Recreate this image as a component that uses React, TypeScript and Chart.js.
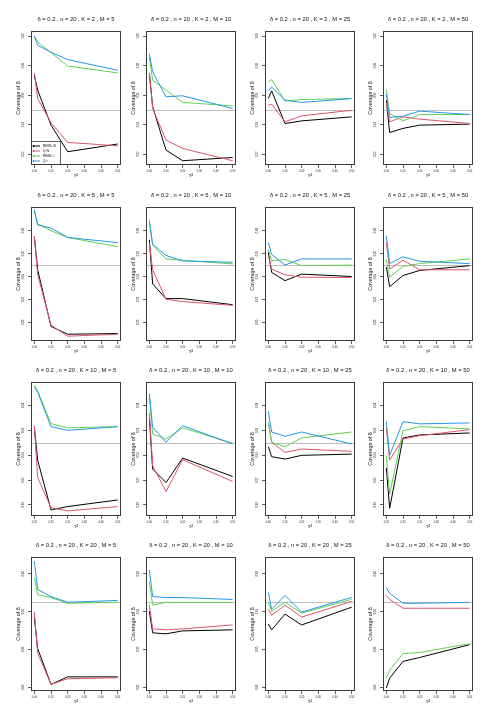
import React, { useEffect, useRef } from "react";
import { Chart, registerables } from "chart.js";

Chart.register(...registerables);

// ---------------- data ----------------
const delta = 0.2;
const nSize = 20;
const tau2 = [0, 0.02, 0.1, 0.2, 0.5];
const xTicks = [0, 0.1, 0.2, 0.3, 0.4, 0.5];
const Kvals = [2, 5, 10, 20];
const Mvals = [5, 10, 25, 50];
const seriesNames = ["REML.N", "Q.N", "REML.t", "Q.t"];
const seriesColors = ["#000000", "#DF536B", "#61D04F", "#2297E6"];
const nominal = 0.95;

// each array: rows for M = 5, 10, 25, 50; columns follow tau2
const K2_REML_N = [
  [0.9734, 0.9633, 0.9396, 0.9216, 0.9268],
  [0.975, 0.952, 0.9227, 0.9155, 0.9177],
  [0.9576, 0.9628, 0.9407, 0.9425, 0.9452],
  [0.9565, 0.9346, 0.9374, 0.9396, 0.9403],
];
const K2_Q_N = [
  [0.975, 0.9576, 0.9412, 0.9279, 0.9256],
  [0.975, 0.9509, 0.9295, 0.9238, 0.9155],
  [0.9531, 0.9538, 0.9419, 0.9459, 0.9497],
  [0.9547, 0.9419, 0.9452, 0.9437, 0.9407],
];
const K2_REML_t = [
  [1.0, 0.996, 0.9887, 0.9797, 0.975],
  [0.9858, 0.97, 0.9633, 0.955, 0.9527],
  [0.9689, 0.9705, 0.956, 0.957, 0.9576],
  [0.9637, 0.9475, 0.9425, 0.9468, 0.9468],
];
const K2_Q_t = [
  [1.0, 0.9937, 0.989, 0.984, 0.9768],
  [0.988, 0.9757, 0.9588, 0.9595, 0.9509],
  [0.9628, 0.9655, 0.9565, 0.955, 0.9576],
  [0.9606, 0.9448, 0.9457, 0.9491, 0.9468],
];

const K5_REML_N = [
  [0.975, 0.9459, 0.8964, 0.8896, 0.8902],
  [0.972, 0.9335, 0.9207, 0.9207, 0.9154],
  [0.9613, 0.9436, 0.9364, 0.9421, 0.94],
  [0.9483, 0.9311, 0.9409, 0.9453, 0.9495],
];
const K5_Q_N = [
  [0.975, 0.9415, 0.8976, 0.8879, 0.8896],
  [0.9696, 0.9459, 0.9201, 0.9181, 0.9148],
  [0.9584, 0.9465, 0.9415, 0.9394, 0.9391],
  [0.9696, 0.9465, 0.9542, 0.9459, 0.9459],
];
const K5_REML_t = [
  [0.997, 0.9859, 0.98, 0.9741, 0.9661],
  [0.9898, 0.9673, 0.9554, 0.9542, 0.951],
  [0.9637, 0.9539, 0.9548, 0.9495, 0.95],
  [0.9548, 0.9394, 0.9489, 0.9513, 0.9554],
];
const K5_Q_t = [
  [0.9987, 0.985, 0.9824, 0.9741, 0.9696],
  [0.9874, 0.9681, 0.9584, 0.9536, 0.9524],
  [0.9696, 0.9593, 0.95, 0.9554, 0.9554],
  [0.9756, 0.9513, 0.9572, 0.9533, 0.9513],
];

const K10_REML_N = [
  [0.9625, 0.936, 0.896, 0.8987, 0.904],
  [0.97, 0.9288, 0.918, 0.9377, 0.9229],
  [0.9469, 0.9388, 0.9369, 0.9399, 0.9409],
  [0.9297, 0.8973, 0.9539, 0.9563, 0.9579],
];
const K10_Q_N = [
  [0.9638, 0.922, 0.8978, 0.8952, 0.8987],
  [0.974, 0.9315, 0.9108, 0.9364, 0.9189],
  [0.9665, 0.9504, 0.9423, 0.945, 0.9431],
  [0.962, 0.9362, 0.953, 0.9557, 0.9606],
];
const K10_REML_t = [
  [0.9962, 0.9916, 0.9654, 0.962, 0.963],
  [0.989, 0.957, 0.953, 0.962, 0.9496],
  [0.9665, 0.9504, 0.9469, 0.9539, 0.9587],
  [0.9393, 0.9084, 0.9598, 0.963, 0.9612],
];
const K10_Q_t = [
  [0.9948, 0.9908, 0.963, 0.96, 0.963],
  [0.9894, 0.9625, 0.9504, 0.9638, 0.949],
  [0.9754, 0.9587, 0.9552, 0.9587, 0.949],
  [0.967, 0.94, 0.967, 0.9652, 0.966],
];

const K20_REML_N = [
  [0.934, 0.901, 0.863, 0.871, 0.871],
  [0.9406, 0.9176, 0.9166, 0.9197, 0.9208],
  [0.927, 0.9208, 0.9375, 0.926, 0.9448],
  [0.8592, 0.8696, 0.8874, 0.8915, 0.9051],
];
const K20_Q_N = [
  [0.94, 0.896, 0.863, 0.869, 0.87],
  [0.947, 0.9218, 0.9208, 0.9218, 0.926],
  [0.9427, 0.9364, 0.9469, 0.9343, 0.951],
  [0.9573, 0.9531, 0.9437, 0.9437, 0.9437],
];
const K20_REML_t = [
  [0.976, 0.958, 0.955, 0.949, 0.95],
  [0.972, 0.947, 0.95, 0.95, 0.95],
  [0.95, 0.9406, 0.95, 0.9385, 0.9531],
  [0.8696, 0.878, 0.8957, 0.8968, 0.9062],
];
const K20_Q_t = [
  [0.9938, 0.9636, 0.956, 0.95, 0.952],
  [0.9844, 0.956, 0.955, 0.955, 0.953],
  [0.9604, 0.9427, 0.9573, 0.9396, 0.9552],
  [0.9657, 0.9594, 0.949, 0.949, 0.95],
];

const seriesByK = [
  [K2_REML_N, K2_Q_N, K2_REML_t, K2_Q_t],
  [K5_REML_N, K5_Q_N, K5_REML_t, K5_Q_t],
  [K10_REML_N, K10_Q_N, K10_REML_t, K10_Q_t],
  [K20_REML_N, K20_Q_N, K20_REML_t, K20_Q_t],
];

const yTicksRow1 = [0.92, 0.94, 0.96, 0.98, 1.0];
const yTicksRow2 = [0.9, 0.92, 0.94, 0.96, 0.98];
const yTicksRow3 = [0.9, 0.92, 0.94, 0.96, 0.98];
const yTicksRow4 = [0.86, 0.9, 0.94, 0.98];
const yTicksByK = [yTicksRow1, yTicksRow2, yTicksRow3, yTicksRow4];
const yMinByK = [0.9126, 0.8837, 0.8911, 0.856];
const yMaxByK = [1.0034, 1.0007, 0.9989, 0.998];

// ---------------- layout ----------------
const FONT = "'Liberation Sans', Arial, Helvetica, sans-serif";
const colLeft = [31, 146, 265, 383];
const rowTop = [31, 207, 382, 557];
const boxW = 90;
const boxH = 134;
const padL = 31;
const padT = 31;
const padR = 4;
const padB = 21;
const canvasW = padL + boxW + padR;
const canvasH = padT + boxH + padB;

const decor = {
  id: "panelDecor",
  beforeDatasetsDraw(chart: any, _args: any, opts: any) {
    const { ctx, chartArea: a, scales } = chart;
    const yy = Math.round(scales.y.getPixelForValue(nominal)) + 0.5;
    ctx.save();
    ctx.strokeStyle = "#BEBEBE";
    ctx.lineWidth = 1;
    ctx.beginPath();
    ctx.moveTo(a.left, yy);
    ctx.lineTo(a.right, yy);
    ctx.stroke();
    ctx.restore();
  },
  afterDraw(chart: any, _args: any, opts: any) {
    const { ctx, chartArea: a } = chart;
    ctx.save();
    // box
    ctx.strokeStyle = "#3a3a3a";
    ctx.lineWidth = 1;
    ctx.strokeRect(a.left + 0.5, a.top + 0.5, a.right - a.left - 1, a.bottom - a.top - 1);
    // title
    ctx.fillStyle = "#111";
    ctx.textAlign = "center";
    ctx.textBaseline = "middle";
    ctx.font = `5.8px ${FONT}`;
    ctx.fillText(opts.title, (a.left + a.right) / 2, a.top - 12);
    // x title
    ctx.font = `5.6px ${FONT}`;
    ctx.fillText("τ²", (a.left + a.right) / 2, a.bottom + 10.5);
    // y title
    ctx.save();
    ctx.translate(a.left - 12.7, (a.top + a.bottom) / 2);
    ctx.rotate(-Math.PI / 2);
    ctx.font = `5.3px ${FONT}`;
    ctx.fillText("Coverage of δ", 0, 0);
    ctx.restore();
    // legend
    if (opts.legend) {
      const lx = a.left;
      const lb = a.bottom;
      ctx.strokeStyle = "#3a3a3a";
      ctx.lineWidth = 0.8;
      ctx.strokeRect(lx + 0.5, lb - 23.5, 29, 23);
      ctx.font = `3.5px ${FONT}`;
      ctx.textAlign = "left";
      const ys = [-19, -14, -9, -4];
      seriesNames.forEach((name, i) => {
        const y = lb + ys[i];
        ctx.strokeStyle = seriesColors[i];
        ctx.fillStyle = seriesColors[i];
        ctx.lineWidth = 1;
        ctx.beginPath();
        ctx.moveTo(lx + 2, y);
        ctx.lineTo(lx + 9, y);
        ctx.stroke();
        ctx.beginPath();
        ctx.arc(lx + 2.5, y, 0.9, 0, Math.PI * 2);
        ctx.fill();
        ctx.fillStyle = "#111";
        ctx.fillText(name, lx + 11.7, y);
      });
    }
    ctx.restore();
  },
};

function Panel({ ki, mi }: { ki: number; mi: number }) {
  const ref = useRef<HTMLCanvasElement>(null);
  useEffect(() => {
    const series = seriesByK[ki];
    const datasets = series.map((arr, si) => ({
      label: seriesNames[si],
      data: tau2.map((x, j) => ({ x, y: arr[mi][j] })),
      borderColor: seriesColors[si],
      backgroundColor: seriesColors[si],
      borderWidth: 1,
      pointRadius: 0,
      tension: 0,
      fill: false,
      order: 3 - si,
    }));
    const yTicks = yTicksByK[ki];
    const tickFont = { size: 2.7, family: FONT };
    const chart = new Chart(ref.current as HTMLCanvasElement, {
      type: "line",
      data: { datasets },
      plugins: [decor],
      options: {
        animation: false,
        responsive: false,
        devicePixelRatio: 1,
        layout: { padding: { top: padT, right: padR, left: 0, bottom: 0 } },
        plugins: {
          legend: { display: false },
          tooltip: { enabled: false },
          title: { display: false },
          panelDecor: {
            title: `δ = ${delta} , n = ${nSize} , K = ${Kvals[ki]} , M = ${Mvals[mi]}`,
            legend: ki === 0 && mi === 0,
          },
        } as any,
        scales: {
          x: {
            type: "linear",
            min: -0.02,
            max: 0.52,
            afterBuildTicks: (s: any) => {
              s.ticks = xTicks.map((v) => ({ value: v }));
            },
            afterFit: (s: any) => {
              s.height = padB;
            },
            grid: { display: true, drawOnChartArea: false, drawTicks: true, tickLength: 3, color: "#3a3a3a", lineWidth: 0.8 },
            border: { display: false },
            ticks: {
              autoSkip: false,
              maxRotation: 0,
              minRotation: 0,
              padding: 2,
              color: "#222",
              font: tickFont,
              callback: (v: any) => Number(v).toFixed(2),
            },
          },
          y: {
            type: "linear",
            min: yMinByK[ki],
            max: yMaxByK[ki],
            afterBuildTicks: (s: any) => {
              s.ticks = yTicks.map((v) => ({ value: v }));
            },
            afterFit: (s: any) => {
              s.width = padL;
            },
            grid: { display: true, drawOnChartArea: false, drawTicks: true, tickLength: 3, color: "#3a3a3a", lineWidth: 0.8 },
            border: { display: false },
            ticks: {
              autoSkip: false,
              minRotation: 90,
              maxRotation: 90,
              crossAlign: "center",
              padding: 2,
              color: "#222",
              font: tickFont,
              callback: (v: any) => Number(v).toFixed(2),
            },
          },
        },
      } as any,
    });
    return () => chart.destroy();
  }, [ki, mi]);
  return (
    <canvas
      ref={ref}
      width={canvasW}
      height={canvasH}
      style={{
        position: "absolute",
        left: colLeft[mi] - padL,
        top: rowTop[ki] - padT,
        width: canvasW,
        height: canvasH,
      }}
    />
  );
}

export default function App() {
  const panels = [];
  for (let ki = 0; ki < Kvals.length; ki++) {
    for (let mi = 0; mi < Mvals.length; mi++) {
      panels.push(<Panel key={`${ki}-${mi}`} ki={ki} mi={mi} />);
    }
  }
  return (
    <div
      style={{
        position: "fixed",
        left: 0,
        top: 0,
        width: 495,
        height: 726,
        background: "#ffffff",
        overflow: "hidden",
      }}
    >
      {panels}
    </div>
  );
}
